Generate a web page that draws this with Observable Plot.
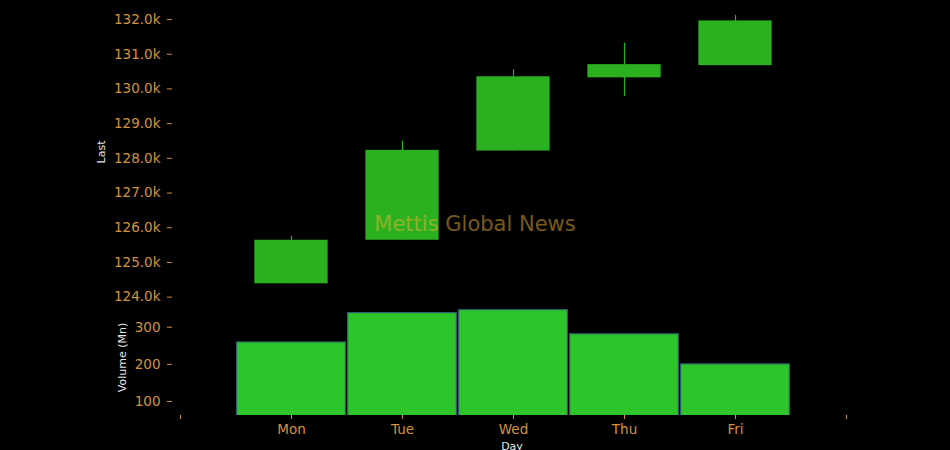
<!DOCTYPE html>
<html>
<head>
<meta charset="utf-8">
<script src="https://cdn.jsdelivr.net/npm/d3@7"></script>
<script src="https://cdn.jsdelivr.net/npm/@observablehq/plot@0.6"></script>
<style>
  html, body { margin: 0; padding: 0; background: #000; }
  #wrap { position: relative; width: 950px; height: 450px; background: #000; overflow: hidden; }
  #topPanel, #bottomPanel { position: absolute; left: 0; }
  #topPanel { top: 0; z-index: 2; }
  #bottomPanel { top: 300px; z-index: 1; }
  #wm { position: absolute; left: 0; width: 950px; top: 210px; text-align: center; z-index: 3;
        font-family: "DejaVu Sans", sans-serif; font-size: 21px; color: rgba(240,180,50,0.5);
        pointer-events: none; line-height: 28px; }
</style>
</head>
<body>
<div id="wrap">
  <div id="topPanel"></div>
  <div id="bottomPanel"></div>
  <div id="wm">Mettis Global News</div>
</div>
<script>
const days = ["Mon", "Tue", "Wed", "Thu", "Fri"];
const opens  = [124385, 125640, 128210, 130320, 130670];
const closes = [125640, 128230, 130350, 130700, 131960];
const highs  = [125750, 128490, 130550, 131320, 132120];
const lows   = [124385, 125640, 128210, 129780, 130670];
const volumes = [259, 338, 346, 281, 200];
const xTickLabels = ["", "Mon", "Tue", "Wed", "Thu", "Fri", ""];
const priceTicks = [124000, 125000, 126000, 127000, 128000, 129000, 130000, 131000, 132000];
const volTicks = [100, 200, 300];

const data = days.map((d, i) => ({
  day: d, pos: i + 1,
  open: opens[i], close: closes[i], high: highs[i], low: lows[i], volume: volumes[i]
}));

const tickColor = "#d4923c";
const labelColor = "#e6e6e6";
const font = "DejaVu Sans";
const xDomain = [-0.072, 6.045];

const pricePlot = Plot.plot({
  width: 950, height: 305,
  marginLeft: 172, marginRight: 99, marginTop: 10, marginBottom: 0,
  style: { background: "transparent", color: tickColor, fontFamily: font, fontSize: "13.5px", overflow: "visible" },
  x: { domain: xDomain, axis: null },
  y: { domain: [123760, 132260], axis: null },
  marks: [
    Plot.ruleX(data, { x: "pos", y1: "low", y2: "high", stroke: "#2cb522", strokeWidth: 1.2 }),
    Plot.rectY(data, { x1: d => d.pos - 0.33, x2: d => d.pos + 0.33, y1: "open", y2: "close",
                        fill: "#2bb120" }),
    Plot.axisY({ ticks: priceTicks, tickFormat: d => (d / 1000).toFixed(1) + "k",
                 tickSize: 5, tickPadding: 7, label: null, color: tickColor, fontSize: 13.5 }),
    Plot.text(["Last"], { text: d => d, frameAnchor: "left", dx: -71, dy: -6, rotate: -90,
                          fill: labelColor, fontSize: 11, textAnchor: "middle", lineAnchor: "middle" })
  ]
});
document.getElementById("topPanel").appendChild(pricePlot);

const volumePlot = Plot.plot({
  width: 950, height: 150,
  marginLeft: 172, marginRight: 99, marginTop: 5, marginBottom: 35,
  style: { background: "transparent", color: tickColor, fontFamily: font, fontSize: "13.5px", overflow: "visible" },
  x: { domain: xDomain, axis: null },
  y: { domain: [62.3, 358.4], axis: null },
  marks: [
    Plot.rectY(data, { x1: d => d.pos - 0.49, x2: d => d.pos + 0.49, y1: 0, y2: "volume",
                        fill: "#2ec52a", stroke: "#2b5e6a", strokeWidth: 1.2, clip: true }),
    Plot.axisY({ ticks: volTicks, tickSize: 5, tickPadding: 7, label: null, color: tickColor, fontSize: 13.5 }),
    Plot.axisX({ ticks: [0, 1, 2, 3, 4, 5, 6], tickFormat: i => xTickLabels[i],
                 tickSize: 4, tickPadding: 5, label: null, color: tickColor, fontSize: 13.5 }),
    Plot.text(["Volume (Mn)"], { text: d => d, frameAnchor: "left", dx: -50, dy: -3, rotate: -90,
                          fill: labelColor, fontSize: 11, textAnchor: "middle", lineAnchor: "middle" }),
    Plot.text(["Day"], { text: d => d, frameAnchor: "bottom", dy: 27,
                          fill: labelColor, fontSize: 11, lineAnchor: "top" })
  ]
});
document.getElementById("bottomPanel").appendChild(volumePlot);
</script>
</body>
</html>
